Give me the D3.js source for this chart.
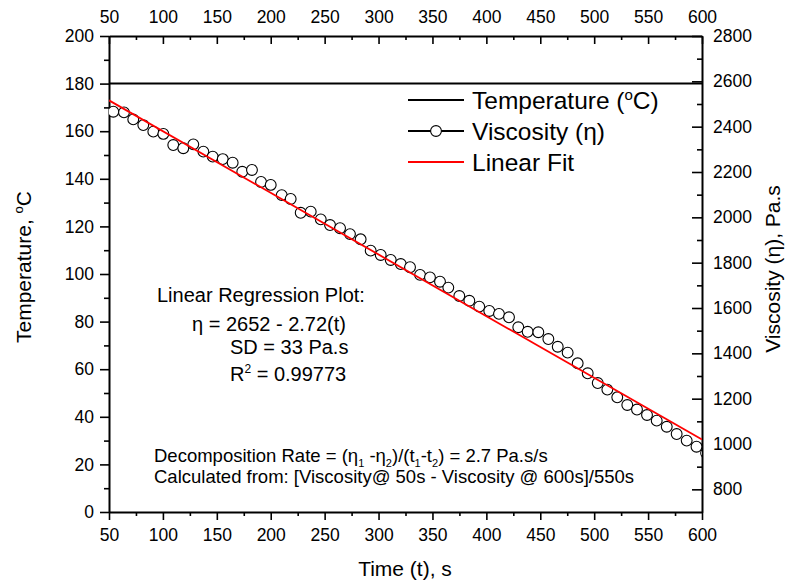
<!DOCTYPE html>
<html>
<head>
<meta charset="utf-8">
<script src="https://cdn.jsdelivr.net/npm/d3@7"></script>
<style>
body{margin:0;background:#fff}
svg{font-family:"Liberation Sans",Arial,sans-serif}
</style>
</head>
<body>
<svg id="chart"></svg>
<script>
//viscosity readings (time in s, viscosity in Pa.s)
var times=[54.0,63.9,72.5,81.8,91.1,100.4,109.6,118.9,128.2,137.5,146.2,155.5,164.7,173.6,182.6,191.0,200.0,210.2,218.5,227.8,237.1,246.4,255.0,264.3,273.5,283.4,292.7,302.0,311.3,320.6,329.2,338.5,347.7,357.0,364.7,374.9,384.2,393.4,402.7,411.7,421.0,429.6,438.3,448.2,457.5,466.2,475.4,484.7,494.0,503.3,512.2,521.4,530.7,539.7,549.0,558.0,567.3,576.5,585.8,594.9,603.8]
var viscosity=[2466,2463,2432,2407,2378,2368,2319,2305,2322,2290,2268,2257,2241,2201,2209,2156,2143,2098,2081,2020,2025,1991,1966,1952,1926,1903,1853,1834,1812,1794,1780,1746,1735,1716,1690,1653,1632,1606,1587,1574,1559,1515,1495,1493,1463,1429,1403,1356,1312,1269,1240,1206,1172,1152,1128,1103,1076,1044,1015,988,960]
//temperature line
var tempTimes=[50,600]
var tempValues=[180,180]
//linear fit ends
var fitTimes=[50,600]
var fitValues=[2516,1020]
//ticks
var timeTicks=[50,100,150,200,250,300,350,400,450,500,550,600]
var timeMinor=[75,125,175,225,275,325,375,425,475,525,575]
var tempTicks=[0,20,40,60,80,100,120,140,160,180,200]
var tempMinor=[10,30,50,70,90,110,130,150,170,190]
var viscTicks=[800,1000,1200,1400,1600,1800,2000,2200,2400,2600,2800]
var viscMinor=[900,1100,1300,1500,1700,1900,2100,2300,2500,2700]

var screen={width:786,height:583}
var plot={left:109,right:702,top:36,bottom:512}

var svg=d3.select("#chart")
    .attr("width",screen.width)
    .attr("height",screen.height)

var xScale=d3.scaleLinear().domain([50,600]).range([plot.left,plot.right])
var yTemp=d3.scaleLinear().domain([0,200]).range([plot.bottom,plot.top])
var yVisc=d3.scaleLinear().domain([700,2800]).range([plot.bottom,plot.top])

svg.append("defs").append("clipPath").attr("id","clip")
    .append("rect")
    .attr("x",plot.left).attr("y",plot.top)
    .attr("width",plot.right-plot.left).attr("height",plot.bottom-plot.top)

var styleAxis=function(g,size){
    g.selectAll(".domain").attr("stroke-width",2)
    g.selectAll(".tick line").attr("stroke-width",1.6)
    g.selectAll("text").attr("font-size",size).attr("fill","#000")
}
var minorStyle=function(g){
    g.select(".domain").remove()
    g.selectAll("line").attr("stroke-width",1.6)
}

//bottom
var gb=svg.append("g").attr("transform","translate(0,"+plot.bottom+")")
    .call(d3.axisBottom(xScale).tickValues(timeTicks).tickSize(8).tickSizeOuter(0).tickPadding(9))
styleAxis(gb,"17.5px")
svg.append("g").attr("transform","translate(0,"+plot.bottom+")")
    .call(d3.axisBottom(xScale).tickValues(timeMinor).tickSize(4).tickFormat(""))
    .call(minorStyle)
//top
var gt=svg.append("g").attr("transform","translate(0,"+plot.top+")")
    .call(d3.axisTop(xScale).tickValues(timeTicks).tickSize(-8).tickSizeOuter(0).tickPadding(13))
styleAxis(gt,"17.5px")
svg.append("g").attr("transform","translate(0,"+plot.top+")")
    .call(d3.axisTop(xScale).tickValues(timeMinor).tickSize(-4).tickFormat(""))
    .call(minorStyle)
//left
var gl=svg.append("g").attr("transform","translate("+plot.left+",0)")
    .call(d3.axisLeft(yTemp).tickValues(tempTicks).tickSize(9).tickSizeOuter(0).tickPadding(6))
styleAxis(gl,"17.5px")
svg.append("g").attr("transform","translate("+plot.left+",0)")
    .call(d3.axisLeft(yTemp).tickValues(tempMinor).tickSize(5).tickFormat(""))
    .call(minorStyle)
//right
var gr=svg.append("g").attr("transform","translate("+plot.right+",0)")
    .call(d3.axisRight(yVisc).tickValues(viscTicks).tickFormat(d3.format("d")).tickSize(-10).tickSizeOuter(0).tickPadding(11))
styleAxis(gr,"17.5px")
svg.append("g").attr("transform","translate("+plot.right+",0)")
    .call(d3.axisRight(yVisc).tickValues(viscMinor).tickSize(-5).tickFormat(""))
    .call(minorStyle)

var marks=svg.append("g").attr("clip-path","url(#clip)")

//temperature
marks.append("path")
    .datum(tempTimes.map(function(t,i){return [t,tempValues[i]]}))
    .attr("fill","none").attr("stroke","#000").attr("stroke-width",2)
    .attr("d",d3.line().x(function(d){return xScale(d[0])}).y(function(d){return yTemp(d[1])}))

//viscosity circles
marks.selectAll("circle")
    .data(times.map(function(t,i){return [t,viscosity[i]]}))
    .enter()
    .append("circle")
    .attr("cx",function(d){return xScale(d[0])})
    .attr("cy",function(d){return yVisc(d[1])})
    .attr("r",5.4)
    .attr("fill","#fff")
    .attr("stroke","#000")
    .attr("stroke-width",1.1)

//fit
marks.append("path")
    .datum(fitTimes.map(function(t,i){return [t,fitValues[i]]}))
    .attr("fill","none").attr("stroke","#f00").attr("stroke-width",1.8)
    .attr("d",d3.line().x(function(d){return xScale(d[0])}).y(function(d){return yVisc(d[1])}))

//legend
var lg=svg.append("g")
lg.append("line").attr("x1",408).attr("x2",464).attr("y1",100).attr("y2",100).attr("stroke","#000").attr("stroke-width",2)
lg.append("line").attr("x1",408).attr("x2",464).attr("y1",131).attr("y2",131).attr("stroke","#000").attr("stroke-width",2)
lg.append("circle").attr("cx",436).attr("cy",131).attr("r",5.4).attr("fill","#fff").attr("stroke","#000").attr("stroke-width",1.1)
lg.append("line").attr("x1",408).attr("x2",464).attr("y1",162).attr("y2",162).attr("stroke","#f00").attr("stroke-width",1.8)
var t1=lg.append("text").attr("x",472).attr("y",109).attr("font-size","24.5px")
t1.append("tspan").text("Temperature (")
t1.append("tspan").attr("font-size","15px").attr("dy",-9).text("o")
t1.append("tspan").attr("dy",9).text("C)")
lg.append("text").attr("x",472).attr("y",140).attr("font-size","24.5px").text("Viscosity (η)")
lg.append("text").attr("x",472).attr("y",171).attr("font-size","24.5px").text("Linear Fit")

//regression notes
var notes=svg.append("g").attr("font-size","20px")
notes.append("text").attr("x",157).attr("y",302).text("Linear Regression Plot:")
notes.append("text").attr("x",192).attr("y",331).text("η = 2652 - 2.72(t)")
notes.append("text").attr("x",230).attr("y",354).text("SD = 33 Pa.s")
var r2=notes.append("text").attr("x",230).attr("y",381)
r2.append("tspan").text("R")
r2.append("tspan").attr("font-size","12px").attr("dy",-8).text("2")
r2.append("tspan").attr("dy",8).text(" = 0.99773")

//decomposition rate, with subscripts
var decParts=[["Decomposition Rate = (η",0],["1",1],[" -η",0],["2",1],[")/(t",0],["1",1],["-t",0],["2",1],[") = 2.7 Pa.s/s",0]]
var dec=svg.append("text").attr("x",154).attr("y",462).attr("font-size","18.5px")
var prevSub=0
decParts.forEach(function(p){
    var ts=dec.append("tspan").text(p[0])
    if(p[1]==1){
        ts.attr("font-size","11px").attr("dy",5)
    }else if(prevSub==1){
        ts.attr("dy",-5)
    }
    prevSub=p[1]
})
svg.append("text").attr("x",154).attr("y",483).attr("font-size","18.5px")
    .text("Calculated from: [Viscosity@ 50s - Viscosity @ 600s]/550s")

//axis titles
svg.append("text").attr("x",405).attr("y",576).attr("text-anchor","middle").attr("font-size","21px").text("Time (t), s")
var lt=svg.append("text").attr("transform","translate(31,267) rotate(-90)").attr("text-anchor","middle").attr("font-size","21px")
lt.append("tspan").text("Temperature, ")
lt.append("tspan").attr("font-size","13px").attr("dy",-8).text("o")
lt.append("tspan").attr("dy",8).text("C")
svg.append("text").attr("transform","translate(780,269) rotate(-90)").attr("text-anchor","middle").attr("font-size","21px").text("Viscosity (η), Pa.s")
</script>
</body>
</html>
